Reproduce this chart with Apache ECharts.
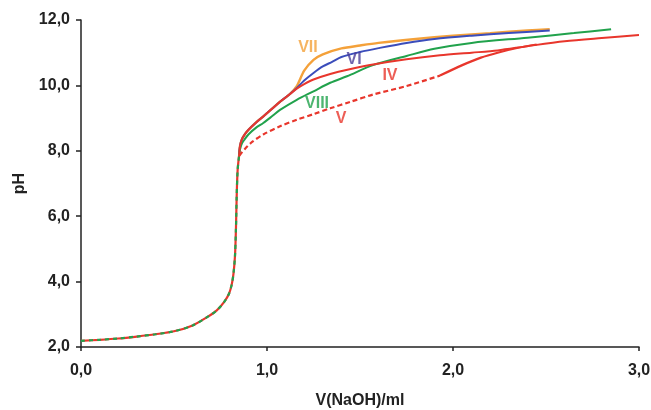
<!DOCTYPE html>
<html>
<head>
<meta charset="utf-8">
<script src="https://cdn.jsdelivr.net/npm/echarts@6/dist/echarts.min.js"></script>
<style>
  html, body { margin: 0; padding: 0; background: #fff; }
  #chart { width: 651px; height: 410px; }
</style>
</head>
<body>
<div id="chart"></div>
<script>
// Titration curves: pH against added volume of NaOH (ml)

// shared acidic part and the equivalence jump
var commonX = [0, 0.1, 0.2, 0.3, 0.4, 0.5, 0.6, 0.68, 0.73, 0.77, 0.795, 0.81, 0.82, 0.828, 0.833, 0.837, 0.842, 0.85];
var commonY = [2.19, 2.22, 2.26, 2.32, 2.39, 2.48, 2.66, 2.92, 3.12, 3.38, 3.62, 3.9, 4.25, 4.8, 5.6, 6.6, 7.4, 7.85];

// curve IV (red, solid)
var ivX = [0.85, 0.855, 0.865, 0.88, 0.9, 0.94, 0.98, 1.03, 1.07, 1.12, 1.16, 1.2, 1.25, 1.34, 1.45, 1.57, 1.75, 1.93, 2.1, 2.24, 2.4, 2.6, 2.8, 3.0];
var ivY = [7.85, 8.15, 8.35, 8.5, 8.64, 8.86, 9.05, 9.3, 9.5, 9.72, 9.9, 10.04, 10.18, 10.35, 10.5, 10.64, 10.8, 10.92, 11.0, 11.07, 11.2, 11.35, 11.45, 11.54];

// curve V (red, dashed then solid)
var vX = [0.85, 0.86, 0.88, 0.92, 0.98, 1.07, 1.16, 1.25, 1.34, 1.45, 1.57, 1.75, 1.93, 2.05, 2.15, 2.24, 2.35, 2.45];
var vY = [7.85, 7.92, 8.05, 8.27, 8.5, 8.75, 8.95, 9.12, 9.3, 9.5, 9.72, 9.98, 10.3, 10.62, 10.85, 11.0, 11.15, 11.25];
var vDashEnd = 12;

// curve VI (blue)
var viX = [0.85, 0.855, 0.865, 0.88, 0.9, 0.94, 0.98, 1.03, 1.07, 1.12, 1.16, 1.2, 1.25, 1.3, 1.35, 1.4, 1.5, 1.6, 1.75, 1.9, 2.1, 2.3, 2.52];
var viY = [7.85, 8.15, 8.35, 8.5, 8.64, 8.86, 9.05, 9.3, 9.5, 9.72, 9.92, 10.15, 10.38, 10.58, 10.72, 10.87, 11.02, 11.14, 11.3, 11.42, 11.52, 11.6, 11.68];

// curve VII (orange)
var viiX = [0.85, 0.855, 0.865, 0.88, 0.9, 0.94, 0.98, 1.03, 1.07, 1.12, 1.16, 1.2, 1.25, 1.3, 1.4, 1.5, 1.6, 1.8, 2.0, 2.2, 2.4, 2.52];
var viiY = [7.85, 8.15, 8.35, 8.5, 8.64, 8.86, 9.05, 9.3, 9.5, 9.72, 9.98, 10.45, 10.78, 10.95, 11.13, 11.22, 11.3, 11.42, 11.52, 11.6, 11.68, 11.72];

// curve VIII (green)
var viiiX = [0.85, 0.855, 0.865, 0.88, 0.9, 0.94, 0.98, 1.03, 1.07, 1.16, 1.25, 1.34, 1.43, 1.57, 1.75, 1.9, 2.1, 2.4, 2.65, 2.85];
var viiiY = [7.85, 8.05, 8.22, 8.35, 8.5, 8.7, 8.85, 9.07, 9.25, 9.56, 9.82, 10.08, 10.28, 10.62, 10.9, 11.12, 11.3, 11.46, 11.6, 11.72];

// axis tick labels
var xTickLabels = ['0,0', '1,0', '2,0', '3,0'];
var yTickLabels = ['2,0', '4,0', '6,0', '8,0', '10,0', '12,0'];

var RED = '#e8362c', BLUE = '#3b4dbb', ORANGE = '#f4a13a', GREEN = '#21a24c';
var FONT = '"Liberation Sans", Arial, sans-serif';

function pairs(xs, ys) {
  return xs.map(function (x, i) { return [x, ys[i]]; });
}

function line(data, color, width, type, z) {
  return {
    type: 'line', data: data, showSymbol: false, symbol: 'none', smooth: 0.3,
    lineStyle: { color: color, width: width, type: type || 'solid', cap: 'butt' },
    z: z || 2, silent: true
  };
}

var chart = echarts.init(document.getElementById('chart'), null, { renderer: 'canvas' });

var labelStyle = { fontFamily: FONT, fontWeight: 'bold', fontSize: 16 };

chart.setOption({
  animation: false,
  backgroundColor: '#fff',
  grid: { left: 81, right: 12, top: 20, bottom: 63, containLabel: false, outerBoundsMode: 'none' },
  xAxis: {
    type: 'value', min: 0, max: 3, interval: 1,
    name: 'V(NaOH)/ml', nameLocation: 'middle', nameGap: 46,
    nameTextStyle: { fontFamily: FONT, fontWeight: 'bold', fontSize: 16, color: '#222' },
    axisLine: { lineStyle: { color: '#222', width: 1.5 } },
    axisTick: { show: true, length: 4, lineStyle: { color: '#222', width: 1.5 } },
    axisLabel: {
      margin: 16, color: '#222', fontFamily: FONT, fontWeight: 'bold', fontSize: 16,
      formatter: function (v) { return xTickLabels[Math.round(v)]; }
    },
    splitLine: { show: false }
  },
  yAxis: {
    type: 'value', min: 2, max: 12, interval: 2,
    name: 'pH', nameLocation: 'middle', nameGap: 52, nameRotate: 90,
    nameTextStyle: { fontFamily: FONT, fontWeight: 'bold', fontSize: 16, color: '#222' },
    axisLine: { show: true, lineStyle: { color: '#222', width: 1.5 } },
    axisTick: { show: true, length: 5, lineStyle: { color: '#222', width: 1.5 } },
    axisLabel: {
      margin: 11, color: '#222', fontFamily: FONT, fontWeight: 'bold', fontSize: 16,
      formatter: function (v) { return yTickLabels[Math.round((v - 2) / 2)]; }
    },
    splitLine: { show: false }
  },
  series: [
    line(pairs(viiX, viiY), ORANGE, 2.4, 'solid', 2),
    line(pairs(viX, viY), BLUE, 2, 'solid', 3),
    line(pairs(viiiX, viiiY), GREEN, 2, 'solid', 4),
    line(pairs(ivX, ivY), RED, 2, 'solid', 5),
    line(pairs(vX.slice(0, vDashEnd + 1), vY.slice(0, vDashEnd + 1)), RED, 2.2, [5, 3], 5),
    line(pairs(vX.slice(vDashEnd), vY.slice(vDashEnd)), RED, 2.2, 'solid', 5),
    line(pairs(commonX, commonY), RED, 2.2, 'solid', 6),
    line(pairs(commonX, commonY), GREEN, 2.2, [4, 4], 7),
    {
      type: 'scatter', symbolSize: 0, silent: true, z: 10,
      label: { show: true, position: 'inside', formatter: '{b}' },
      data: [
        { name: 'VII', value: [1.22, 11.15], label: Object.assign({ color: ORANGE }, labelStyle) },
        { name: 'VI', value: [1.468, 10.78], label: Object.assign({ color: '#4b3f98' }, labelStyle) },
        { name: 'IV', value: [1.661, 10.3], label: Object.assign({ color: RED }, labelStyle) },
        { name: 'VIII', value: [1.269, 9.44], label: Object.assign({ color: GREEN }, labelStyle) },
        { name: 'V', value: [1.398, 8.98], label: Object.assign({ color: RED }, labelStyle) }
      ]
    }
  ]
});
</script>
</body>
</html>
